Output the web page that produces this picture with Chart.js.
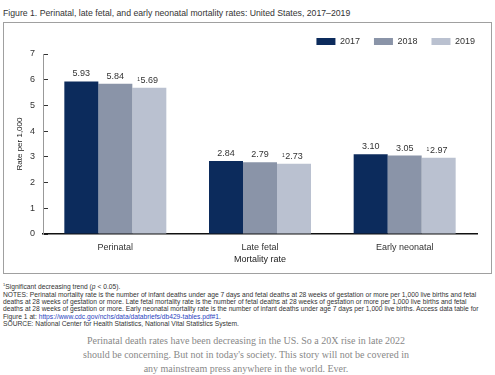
<!DOCTYPE html>
<html>
<head>
<meta charset="utf-8">
<script src="https://cdn.jsdelivr.net/npm/chart.js@4"></script>
<style>
    body { margin: 0; width: 495px; height: 375px; background: #fff; position: relative; overflow: hidden; font-family: "Liberation Sans", Arial, sans-serif; }
    #title { position: absolute; left: 3px; top: 8px; font-size: 8.7px; line-height: 10px; color: #333; white-space: nowrap; }
    #frame { position: absolute; left: 3px; top: 22px; width: 487px; height: 250px; border: 1px solid #a0a0a0; }
    #notes { position: absolute; left: 3px; top: 281px; font-size: 6.7px; line-height: 7.4px; color: #333; white-space: nowrap; }
    #notes a { color: #2a3fc0; text-decoration: none; }
    #caption { position: absolute; left: 0; top: 334px; width: 492px; text-align: center; font-family: "Liberation Serif", serif; font-size: 10px; line-height: 14px; color: #888; }
</style>
</head>
<body>
<div id="title">Figure 1. Perinatal, late fetal, and early neonatal mortality rates: United States, 2017–2019</div>
<div id="frame"><canvas id="chart" width="487" height="250"></canvas></div>
<div id="notes">
    <sup style="font-size:4px">1</sup>Significant decreasing trend (<i>p</i> &lt; 0.05).<br>
    NOTES: Perinatal mortality rate is the number of infant deaths under age 7 days and fetal deaths at 28 weeks of gestation or more per 1,000 live births and fetal<br>
    deaths at 28 weeks of gestation or more. Late fetal mortality rate is the number of fetal deaths at 28 weeks of gestation or more per 1,000 live births and fetal<br>
    deaths at 28 weeks of gestation or more. Early neonatal mortality rate is the number of infant deaths under age 7 days per 1,000 live births. Access data table for<br>
    Figure 1 at: <a>https://www.cdc.gov/nchs/data/databriefs/db429-tables.pdf#1</a>.<br>
    SOURCE: National Center for Health Statistics, National Vital Statistics System.
</div>
<div id="caption">Perinatal death rates have been decreasing in the US. So a 20X rise in late 2022<br>should be concerning. But not in today's society. This story will not be covered in<br>any mainstream press anywhere in the world. Ever.</div>
<script>
const categories = ['Perinatal', 'Late fetal', 'Early neonatal'];
const years = ['2017', '2018', '2019'];
const rates2017 = [5.93, 2.84, 3.10];
const rates2018 = [5.84, 2.79, 3.05];
const rates2019 = [5.69, 2.73, 2.97];
// 2019 values carry the "significant decreasing trend" footnote mark
const significant = [false, false, true];
const yTicks = [0, 1, 2, 3, 4, 5, 6, 7];

const barColors = ['#0c2b5c', '#8a94a8', '#bac1d0'];
const tickFont = { family: '"Liberation Sans", Arial, sans-serif', size: 9 };

// value labels above each bar, with superscript 1 for significant series
const barLabels = {
    id: 'barLabels',
    afterDatasetsDraw(chart) {
        const ctx = chart.ctx;
        ctx.save();
        ctx.fillStyle = '#333';
        ctx.textBaseline = 'bottom';
        chart.data.datasets.forEach((ds, i) => {
            const meta = chart.getDatasetMeta(i);
            meta.data.forEach((bar, j) => {
                const text = ds.data[j].toFixed(2);
                ctx.font = '9px "Liberation Sans", Arial, sans-serif';
                ctx.textAlign = 'center';
                ctx.fillText(text, bar.x, bar.y - 3);
                if (significant[i]) {
                    const w = ctx.measureText(text).width;
                    ctx.font = '5px "Liberation Sans", Arial, sans-serif';
                    ctx.textAlign = 'right';
                    ctx.fillText('1', bar.x - w / 2 - 0.5, bar.y - 6);
                }
            });
        });
        ctx.restore();
    }
};

// legend: less vertical room, and pushed to the right edge of the frame
const legendTweak = {
    id: 'legendTweak',
    beforeInit(chart) {
        const fit = chart.legend.fit;
        chart.legend.fit = function () {
            fit.call(this);
            this.height = 31;
        };
    },
    afterLayout(chart) {
        chart.legend.left += 12;
        chart.legend.right += 12;
    }
};

new Chart(document.getElementById('chart'), {
    type: 'bar',
    data: {
        labels: categories,
        datasets: [rates2017, rates2018, rates2019].map((values, i) => ({
            label: years[i],
            data: values,
            backgroundColor: barColors[i],
            categoryPercentage: 0.705,
            barPercentage: 1.0
        }))
    },
    options: {
        responsive: false,
        animation: false,
        layout: { padding: { top: 0, right: 14, bottom: 0, left: 0 } },
        plugins: {
            legend: {
                position: 'top',
                align: 'end',
                labels: {
                    boxWidth: 19,
                    boxHeight: 7,
                    padding: 14,
                    color: '#333',
                    font: tickFont
                }
            },
            tooltip: { enabled: false }
        },
        scales: {
            x: {
                grid: { display: false, drawTicks: false },
                border: { display: true, color: '#111', width: 1.5 },
                ticks: { color: '#333', font: tickFont, padding: 8 },
                title: { display: true, text: 'Mortality rate', color: '#222', font: tickFont, padding: { top: 1, bottom: 8 } },
                afterFit(scale) { scale.height = 39; }
            },
            y: {
                min: 0,
                max: 7,
                afterBuildTicks(scale) { scale.ticks = yTicks.map(v => ({ value: v })); },
                grid: { drawOnChartArea: false, tickLength: -5, tickColor: '#333' },
                border: { color: '#999', width: 1 },
                ticks: { color: '#333', font: tickFont, padding: 13 },
                title: { display: true, text: 'Rate per 1,000', color: '#222', font: { family: tickFont.family, size: 8 }, padding: { top: 11, bottom: 4 } },
                afterFit(scale) { scale.width = 39; }
            }
        }
    },
    plugins: [barLabels, legendTweak]
});
</script>
</body>
</html>
